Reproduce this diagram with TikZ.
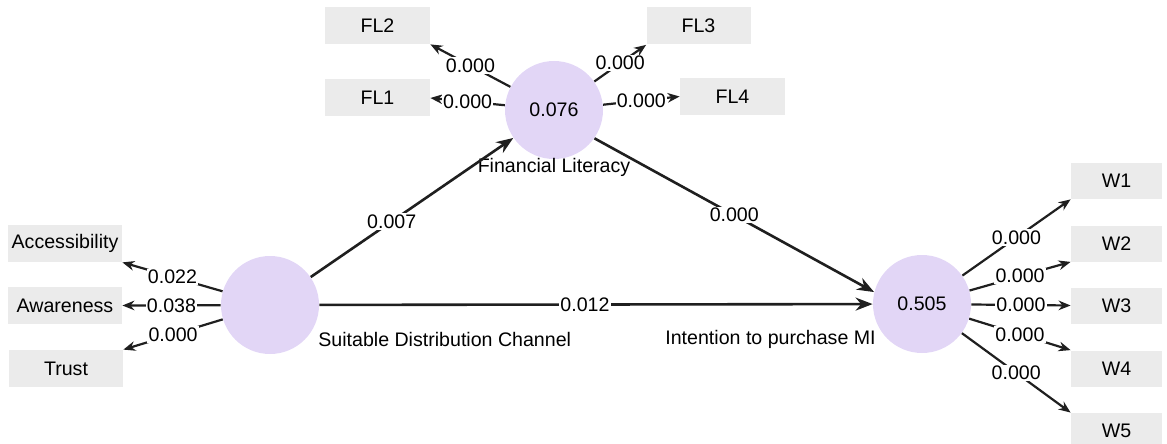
\documentclass[tikz,border=0pt]{standalone}
\usepackage{fontspec}
\setmainfont{Liberation Sans}
\usetikzlibrary{arrows.meta}
\definecolor{latent}{RGB}{226,214,246}
\definecolor{indbox}{RGB}{235,235,235}

\begin{document}
\begin{tikzpicture}[x=0.5pt, y=-0.5pt,
    font=\fontsize{9.8}{11}\selectfont,
    lv/.style={circle, fill=latent, minimum size=49pt, inner sep=0pt},
    ind/.style={fill=indbox, minimum height=18.5pt, inner sep=0pt},
    pth/.style={line width=1.1pt, black!88, -{Stealth[length=6pt, width=4.8pt]}},
    inner/.style={pth, line width=1.3pt, -{Stealth[length=8.5pt, width=6.5pt]}},
    val/.style={fill=white, inner sep=0.6pt, text=black}]
    \useasboundingbox (0,0) rectangle (1167,444);

    % latent variables
    \node[lv] (fl) at (554,110) {0.076};
    \node[lv] (sdc) at (270,305) {};
    \node[lv] (mi) at (922,304) {0.505};
    \node[anchor=north, inner sep=0pt] (fllab) at ([yshift=1pt]fl.south) {Financial Literacy};
    \node[anchor=west, inner sep=0pt] (sdclab) at ([xshift=6.5pt]sdc.south east) {Suitable Distribution Channel};
    \node[anchor=east, inner sep=0pt] (milab) at ([xshift=-5.5pt]mi.south west) {Intention to purchase MI};

    % indicators
    \node[ind, minimum width=52.5pt] (fl2) at (377.5,25.5) {FL2};
    \node[ind, minimum width=52.5pt] (fl1) at (377.5,98) {FL1};
    \node[ind, minimum width=52pt] (fl3) at (698.5,26) {FL3};
    \node[ind, minimum width=52.5pt] (fl4) at (732.5,96.5) {FL4};
    \node[ind, minimum width=57pt] (acc) at (65,243.5) {Accessibility};
    \node[ind, minimum width=57pt] (awa) at (65,305.5) {Awareness};
    \node[ind, minimum width=57pt] (tru) at (66,368.5) {Trust};
    \foreach \i/\y in {1/181,2/243.5,3/305.5,4/368.5,5/431}
        \node[ind, minimum width=45.5pt, minimum height=18pt] (w\i) at (1116.5,\y) {W\i};

    % outer loadings
    \draw[pth] (fl) -- node[val]{0.000} (fl2.south east);
    \draw[pth] (fl) -- node[val]{0.000} (fl1.east);
    \draw[pth] (fl) -- node[val]{0.000} (fl3.south west);
    \draw[pth] (fl) -- node[val]{0.000} (fl4.west);
    \draw[pth] (sdc) -- node[val]{0.022} (acc.south east);
    \draw[pth] (sdc) -- node[val]{0.038} (awa.east);
    \draw[pth] (sdc) -- node[val]{0.000} (tru.north east);
    \foreach \i/\a in {1/south west,2/south west,3/west,4/north west,5/north west}
        \draw[pth] (mi) -- node[val]{0.000} (w\i.\a);

    % inner model
    \draw[inner] (sdc) -- node[val, pos=0.4]{0.007} (fl);
    \draw[inner] (fl.-35) -- node[val]{0.000} (mi.166);
    \draw[inner] (sdc) -- node[val, pos=0.48]{0.012} (mi);
\end{tikzpicture}
\end{document}
